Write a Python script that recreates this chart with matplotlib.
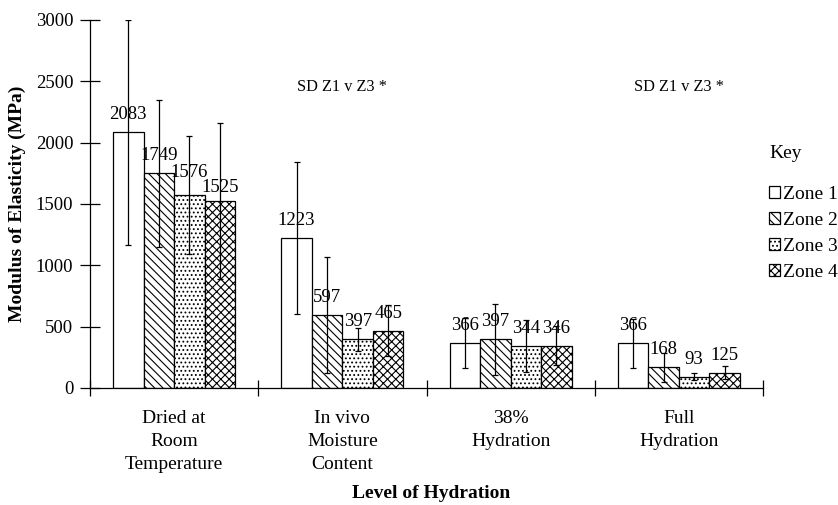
import matplotlib
matplotlib.use("Agg")
import matplotlib.pyplot as plt
from matplotlib.patches import Patch
import numpy as np

plt.rcParams['font.family'] = ['Liberation Serif', 'DejaVu Serif']
plt.rcParams['hatch.linewidth'] = 0.8

categories = ["Dried at\nRoom\nTemperature", "In vivo\nMoisture\nContent",
              "38%\nHydration", "Full\nHydration"]
zones = ["Zone 1", "Zone 2", "Zone 3", "Zone 4"]
# mean modulus (MPa) per zone, one list per zone across the four hydration levels
zone1 = [2083, 1223, 366, 366]
zone2 = [1749, 597, 397, 168]
zone3 = [1576, 397, 344, 93]
zone4 = [1525, 465, 346, 125]
# standard deviations
zone1_sd = [917, 620, 205, 200]
zone2_sd = [600, 472, 290, 120]
zone3_sd = [480, 95, 210, 27]
zone4_sd = [638, 208, 160, 55]
sig_notes = ["", "SD Z1 v Z3 *", "", "SD Z1 v Z3 *"]

means = [zone1, zone2, zone3, zone4]
sds = [zone1_sd, zone2_sd, zone3_sd, zone4_sd]
hatches = [None, '\\\\\\\\', '....', 'xxxx']
# extra vertical shift (points) for crowded value labels: (zone index, category index)
label_nudge = {(2, 0): 3.5, (3, 0): -3.0}

fig = plt.figure(figsize=(8.38, 5.05), dpi=100)
ax = fig.add_axes([90 / 838, 1 - 388 / 505, 673 / 838, 368 / 505])

x = np.arange(len(categories))
width = 0.1815
for i, (m, s, h, name) in enumerate(zip(means, sds, hatches, zones)):
    pos = x + (i - 1.5) * width
    ax.bar(pos, m, width, color='white', edgecolor='black',
           linewidth=0.9, hatch=h, label=name, zorder=2)
    ax.errorbar(pos, m, yerr=s, fmt='none', ecolor='black', elinewidth=0.9,
                capsize=2.5, capthick=0.9, zorder=3)
    for j, (p, v) in enumerate(zip(pos, m)):
        dy = 6.5 + label_nudge.get((i, j), 0.0)
        ax.annotate(f"{v}", (p, v), xytext=(0, dy), textcoords='offset points',
                    ha='center', va='bottom', fontsize=13.5, zorder=4)

for xi, note in zip(x, sig_notes):
    if note:
        ax.text(xi, 2450, note, ha='center', va='center', fontsize=11.7)

ax.set_xlim(-0.5, 3.5)
ax.set_ylim(0, 3000)
ax.set_yticks(np.arange(0, 3001, 500))
ax.set_xticks(np.arange(-0.5, 3.6, 1.0))
ax.set_xticklabels([])
ax.set_xticks(x, minor=True)
ax.set_xticklabels(categories, minor=True, fontsize=14, linespacing=1.48)
ax.tick_params(axis='x', which='minor', length=0, pad=15.5)
ax.tick_params(axis='x', which='major', direction='inout', length=12, width=0.9)
ax.tick_params(axis='y', direction='inout', length=14, width=0.9, labelsize=13.5, pad=5)
for side in ('top', 'right'):
    ax.spines[side].set_visible(False)
ax.spines['left'].set_linewidth(0.9)
ax.spines['bottom'].set_linewidth(0.9)

ax.set_ylabel("Modulus of Elasticity (MPa)", fontsize=14, fontweight='bold', va='center')
ax.yaxis.set_label_coords((17.5 - 90) / 673, 0.5)
fig.text(431.5 / 838, 1 - 494 / 505, "Level of Hydration", ha='center', va='center',
         fontsize=14, fontweight='bold')

fig.text(769 / 838, 1 - 153 / 505, "Key", ha='left', va='center', fontsize=14)
handles = [Patch(facecolor='white', edgecolor='black', linewidth=0.9, hatch=h, label=n)
           for h, n in zip(hatches, zones)]
fig.legend(handles=handles, loc='upper left', bbox_to_anchor=(769 / 838, 1 - 186 / 505),
           frameon=False, fontsize=14, handlelength=0.57, handleheight=0.57,
           handletextpad=0.15, labelspacing=0.46, borderaxespad=0, borderpad=0)

fig.savefig("out.png", dpi=100)
